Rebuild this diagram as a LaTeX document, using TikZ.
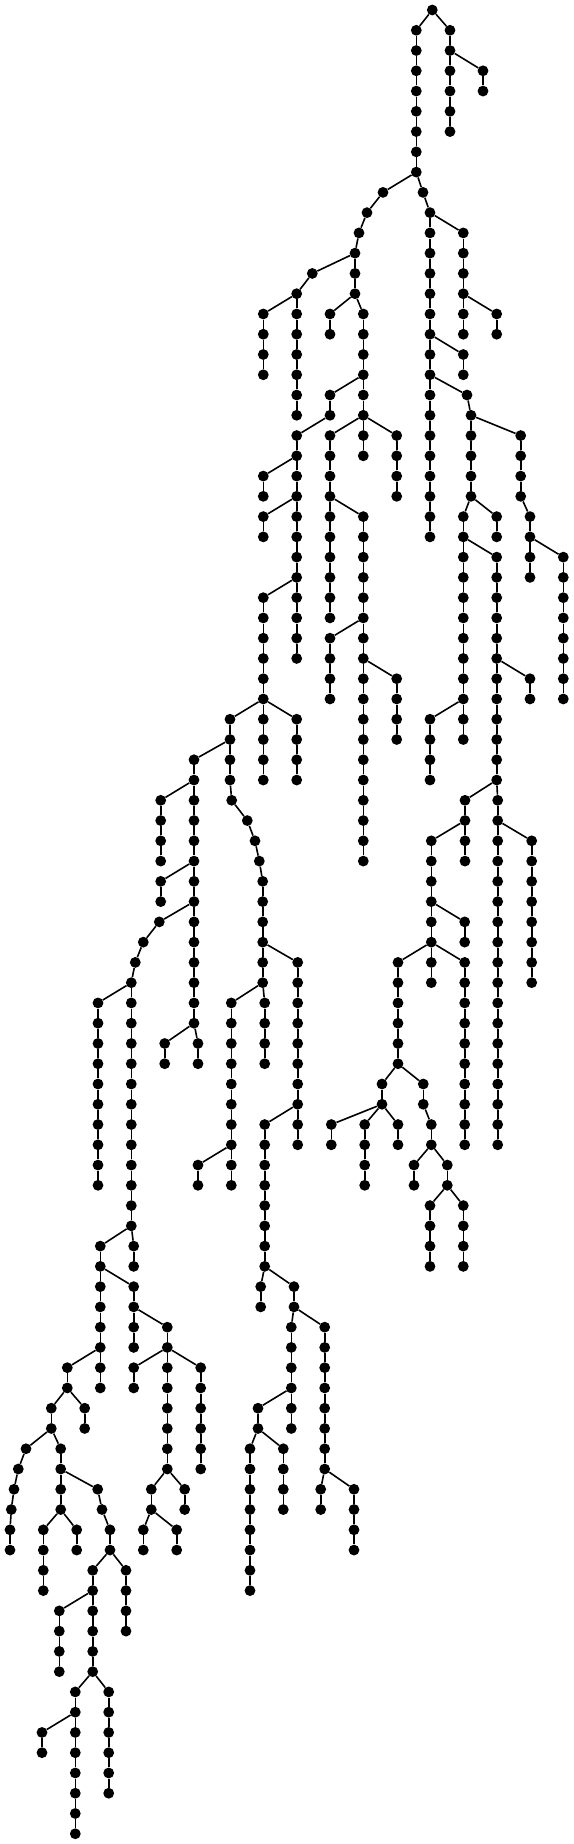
\documentclass[tikz,border=0pt]{standalone}
\usepackage{tikz}
\tikzset{vertex/.style={circle,fill=black,minimum size=10.8pt,inner sep=0pt},link/.style={line width=1.6pt,draw=black}}
\def\chains{A/416.3/1/8/r-0,B/450/1/6/r-0,C/483/3/4/B-2,D1/383/9/9/A-8,D2/367/10/10/D1-9,D3/359/11/11/D2-10,E/355/12/14/D3-11,F/312.3/13/13/E-12,G/296.7/14/20/F-13,H/263.3/15/18/G-14,I/330/15/16/E-14,J/363.3/15/22/E-14,K/330/19/20/J-18,L/296.7/21/32/K-20,M/330/21/30/J-20,N/396.7/21/24/J-20,O/263.3/23/24/L-22,P/263.3/25/26/L-24,Q/263.3/29/38/L-28,S/363.3/25/42/M-24,T/330/31/34/S-30,U/396.7/33/36/S-32,V/230/35/38/Q-34,W/296.7/35/38/Q-34,X/194/37/50/V-36,Y1/231.7/39/39/V-38,Y2/247.3/40/40/Y1-39,Y3/255/41/41/Y2-40,Y4/259.3/42/42/Y3-41,Z/262.7/43/48/Y4-42,a/160.7/39/42/X-38,b/160.7/43/44/X-42,c1/159.3/45/45/X-44,c2/143.3/46/46/c1-45,c3/135.3/47/47/c2-46,d/131.3/48/60/c3-47,e/98/49/58/d-48,f/164.7/51/52/X-50,g/198/51/52/X-50,h/297.7/47/56/Z-46,i/231.3/49/58/Z-48,j/264.7/49/52/Z-48,k/264.7/55/62/h-54,l/198/57/58/i-56,m/100.3/61/68/d-60,n/133.7/61/62/d-60,o/133.7/63/66/m-62,p/167.3/65/72/o-64,q/133.7/67/68/p-66,s/200.7/67/72/p-66,t/67.3/67/68/m-66,u/84.7/69/70/t-68,v/51.3/69/70/t-68,w1/26/71/71/v-70,w2/18.3/72/72/w1-71,w3/14/73/73/w2-72,w4/11.3/74/74/w3-73,w5/10/75/76/w4-74,x/60.7/71/74/v-70,y1/97.7/73/73/x-72,y2/102/74/74/y1-73,y3/110/75/76/y2-74,z1/43.3/75/78/x-74,z2/76.7/75/76/x-74,aa/126/77/80/y3-76,ab/92.7/77/82/y3-76,ac/59.3/79/82/ab-78,ad/75.3/83/90/ab-82,ae/108.7/83/88/ab-82,af/42/85/86/ad-84,ag/151.3/73/74/p-72,ah/184.7/73/74/p-72,ai/143.3/75/76/ag-74,aj/176.7/75/76/ag-74,ak/260.7/63/64/k-62,al/294/63/64/k-62,am/291.3/65/70/al-64,an/324.7/65/72/al-64,ao/258/69/70/am-68,ap/250/71/78/ao-70,aq/283.3/71/74/ao-70,ar/320.7/73/74/an-72,as/354/73/76/an-72,R1/423/9/9/A-8,R2/430/10/26/R1-9,R3/463.3/11/16/R2-10,R4/496.7/15/16/R3-14,R5/463.3/17/18/R2-16,R6/467/19/19/R2-18,R7/471/20/24/R6-19,R8/520.7/21/24/R7-20,R9/530/25/28/R8-24,R10/563.3/27/34/R9-26,R11/463.3/25/36/R7-24,R12/496.7/25/26/R7-24,R13/496.7/27/38/R11-26,R14/530/33/34/R13-32,R15/430/35/38/R11-34,R16/465/39/42/R13-38,R17/497.7/39/56/R13-38,R18/531.7/41/48/R17-40,R19/431.3/41/48/R16-40,R20/464.7/45/46/R19-44,R21/464.7/47/56/R19-46,R22/398/47/52/R19-46,R23/382/53/54/R22-52,R24/423.3/53/54/R22-52,R25/331.3/55/56/R23-54,R26/364.7/55/58/R23-54,R27/398/55/56/R23-54,R28/431.3/55/56/R24-54,R29/414/57/58/R28-56,R30/447.3/57/58/R28-56,R31/430/59/62/R30-58,R32/463.3/59/62/R30-58}

\begin{document}
\begin{tikzpicture}[x=1pt,y=-20.264pt]
  \useasboundingbox (0,-0.4935) rectangle (574,90.506);
  \node[vertex] (r-0) at (432.3,0) {};
  \foreach \cid/\cx/\lo/\hi/\up in \chains {\foreach \l in {\lo,...,\hi} \node[vertex] (\cid-\l) at (\cx,\l) {};}
  \foreach \cid/\cx/\lo/\hi/\up in \chains {
    \draw[link] (\up) -- (\cid-\lo);
    \foreach \l in {\lo,...,\hi} {\ifnum\l>\lo\relax\pgfmathtruncatemacro\prev{\l-1}\draw[link] (\cid-\prev) -- (\cid-\l);\fi}
  }
\end{tikzpicture}
\end{document}
